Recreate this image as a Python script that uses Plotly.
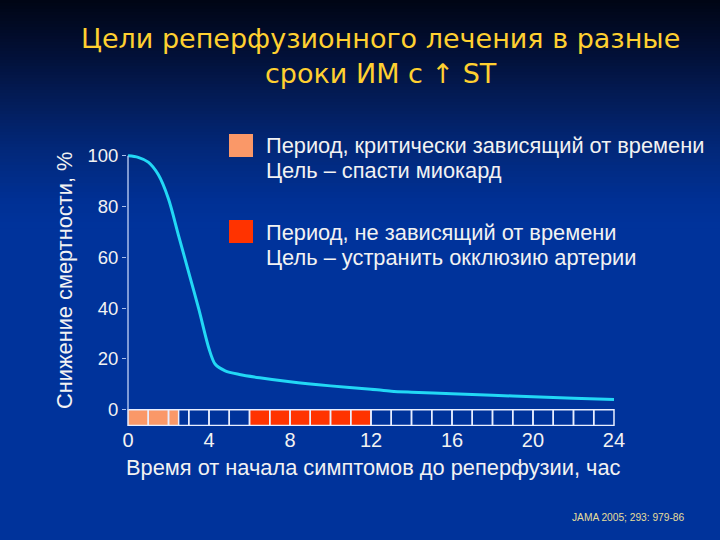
import plotly.graph_objects as go

# ---------------- data ----------------
hours = [0, 0.5, 1, 1.5, 2, 2.5, 3, 3.5, 4.0, 4.3, 4.8, 5.5, 6.5, 8, 10, 12, 13, 14, 16, 18, 20, 22, 24]
mortality_reduction = [100, 99.4, 97.5, 92.5, 83, 68.5, 54, 39.5, 24, 18, 15.3, 13.9, 12.6, 11.0, 9.4, 8.1, 7.3, 6.9, 6.3, 5.7, 5.1, 4.5, 4.0]

x_tick_vals = [0, 4, 8, 12, 16, 20, 24]
y_tick_vals = [0, 20, 40, 60, 80, 100]
hour_cells = list(range(24))
critical_period = [0, 2.5]
non_critical_period = [6, 12]

title_text = "Цели реперфузионного лечения в разные<br>сроки ИМ с ↑ ST"
legend_items = [
    ("Период, критически зависящий от времени", "Цель – спасти миокард"),
    ("Период, не зависящий от времени", "Цель – устранить окклюзию артерии"),
]
x_title = "Время от начала симптомов до реперфузии, час"
y_title = "Снижение смертности, %"
source_text = "JAMA 2005; 293: 979-86"

# ---------------- style ----------------
W, H = 720, 540
ML, MR, MT, MB = 127, 105, 152, 114
PW, PH = W - ML - MR, H - MT - MB
C_LIGHT = "#FA9868"
C_RED = "#FF3300"
C_CURVE = "#22D8F5"
C_TEXT = "#F2F2F2"
C_TITLE = "#FFD030"
FONT = "Liberation Sans, Arial, sans-serif"
TXT = 21.8

def px_to_paper_y(py):
    return (H - MB - py) / PH

def px_to_paper_x(px):
    return (px - ML) / PW

shapes = []
# background gradient (top dark -> blue)
stops = [(0, (0, 5, 20)), (50, (2, 15, 52)), (100, (3, 28, 88)), (150, (2, 40, 122)),
         (200, (0, 48, 148)), (225, (0, 51, 155))]
def grad(py):
    for (a, ca), (b, cb) in zip(stops[:-1], stops[1:]):
        if a <= py <= b:
            t = (py - a) / (b - a)
            return tuple(round(ca[i] + (cb[i] - ca[i]) * t) for i in range(3))
    return stops[-1][1]
step = 3
for py in range(0, 228, step):
    c = grad(py + step / 2)
    shapes.append(dict(type="rect", xref="paper", yref="paper", layer="below",
                       x0=px_to_paper_x(0), x1=px_to_paper_x(W),
                       y0=px_to_paper_y(py + step + 0.5), y1=px_to_paper_y(py),
                       fillcolor="rgb(%d,%d,%d)" % c, line=dict(width=0)))

CELL_BOTTOM = -6.2
# period fills
shapes.append(dict(type="rect", x0=critical_period[0], x1=critical_period[1], y0=CELL_BOTTOM, y1=0,
                   fillcolor=C_LIGHT, line=dict(width=0)))
shapes.append(dict(type="rect", x0=non_critical_period[0], x1=non_critical_period[1], y0=CELL_BOTTOM, y1=0,
                   fillcolor=C_RED, line=dict(width=0)))
# hour cells outlines
for h in hour_cells:
    shapes.append(dict(type="rect", x0=h, x1=h + 1, y0=CELL_BOTTOM, y1=0,
                       fillcolor="rgba(0,0,0,0)", line=dict(color="#E8EEFF", width=1.5)))
shapes.append(dict(type="line", x0=critical_period[1], x1=critical_period[1], y0=CELL_BOTTOM, y1=0,
                   line=dict(color="#E8EEFF", width=1.5)))
# y axis line
shapes.append(dict(type="line", x0=0, x1=0, y0=0, y1=100, line=dict(color="#A9BEEA", width=1.5)))

# legend squares
for i, col in enumerate([C_LIGHT, C_RED]):
    top = 134 + i * 86
    shapes.append(dict(type="rect", xref="paper", yref="paper",
                       x0=px_to_paper_x(229), x1=px_to_paper_x(253),
                       y0=px_to_paper_y(top + 23), y1=px_to_paper_y(top),
                       fillcolor=col, line=dict(width=0)))

annotations = []
annotations.append(dict(text=title_text, xref="paper", yref="paper",
                        x=px_to_paper_x(380), y=px_to_paper_y(56), xanchor="center", yanchor="middle",
                        showarrow=False, align="center",
                        font=dict(family="DejaVu Sans, sans-serif", size=27, color=C_TITLE)))
for i, (l1, l2) in enumerate(legend_items):
    base = 145 + i * 87
    annotations.append(dict(text=l1, xref="paper", yref="paper", x=px_to_paper_x(264), y=px_to_paper_y(base),
                            xanchor="left", yanchor="middle", showarrow=False,
                            font=dict(family=FONT, size=TXT, color=C_TEXT)))
    annotations.append(dict(text=l2, xref="paper", yref="paper", x=px_to_paper_x(264), y=px_to_paper_y(base + 25),
                            xanchor="left", yanchor="middle", showarrow=False,
                            font=dict(family=FONT, size=TXT, color=C_TEXT)))
annotations.append(dict(text=x_title, xref="paper", yref="paper", x=px_to_paper_x(373), y=px_to_paper_y(467),
                        xanchor="center", yanchor="middle", showarrow=False,
                        font=dict(family=FONT, size=TXT, color=C_TEXT)))
annotations.append(dict(text=y_title, xref="paper", yref="paper", x=px_to_paper_x(64), y=px_to_paper_y(281),
                        xanchor="center", yanchor="middle", showarrow=False, textangle=-90,
                        font=dict(family=FONT, size=TXT, color=C_TEXT)))
annotations.append(dict(text=source_text, xref="paper", yref="paper", x=px_to_paper_x(628), y=px_to_paper_y(517),
                        xanchor="center", yanchor="middle", showarrow=False,
                        font=dict(family=FONT, size=10.2, color="#E6DE9A")))

fig = go.Figure()
fig.add_trace(go.Scatter(x=hours, y=mortality_reduction, mode="lines",
                         line=dict(color=C_CURVE, width=3, shape="spline", smoothing=0.8),
                         hoverinfo="skip", showlegend=False))

fig.update_layout(
    width=W, height=H,
    margin=dict(l=ML, r=MR, t=MT, b=MB, pad=0),
    paper_bgcolor="rgb(0,51,155)", plot_bgcolor="rgba(0,0,0,0)",
    showlegend=False,
    shapes=shapes, annotations=annotations,
    xaxis=dict(range=[-0.05, 24.05], showgrid=False, zeroline=False, showline=False,
               tickvals=x_tick_vals, ticks="", ticklen=0,
               tickfont=dict(family=FONT, size=20, color=C_TEXT)),
    yaxis=dict(range=[-6.4, 101.5], showgrid=False, zeroline=False, showline=False,
               tickvals=y_tick_vals, ticks="outside", ticklen=4, tickcolor="#A9BEEA", tickwidth=1,
               tickfont=dict(family=FONT, size=18.5, color=C_TEXT)),
)

fig.write_html("out.html")
